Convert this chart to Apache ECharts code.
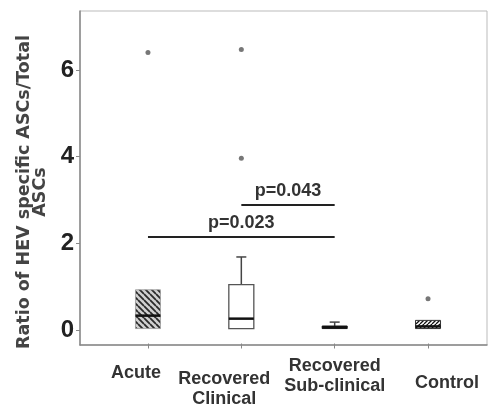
<!DOCTYPE html>
<html><head><meta charset="utf-8">
<script src="https://cdn.jsdelivr.net/npm/echarts@6/dist/echarts.min.js"></script>
<style>html,body{margin:0;padding:0;background:#fff}#c{width:490px;height:409px}</style>
</head><body><div id="c"></div>
<script>
// ---- data ----
const categories = ['Acute', 'Recovered\nClinical', 'Recovered\nSub-clinical', 'Control'];
const boxMin = [0, 0, 0, 0];
const boxQ1 = [0, 0, 0, 0];
const boxMedian = [0.30, 0.23, 0.03, 0.05];
const boxQ3 = [0.90, 1.02, 0.06, 0.19];
const boxMax = [0.90, 1.66, 0.15, 0.19];
const outlierCat = [0, 1, 1, 3];
const outlierVal = [6.40, 6.47, 3.95, 0.69];
const yTicks = [0, 2, 4, 6];
const pFrom = [0, 1];
const pTo = [2, 2];
const pY = [2.12, 2.86];
const pText = ['p=0.023', 'p=0.043'];

// ---- styles ----
const FONT = "'Liberation Sans', Arial, sans-serif";
function hatch(bg, fg, dir, s, lw) {
  const c = document.createElement('canvas'); c.width = s; c.height = s;
  const g = c.getContext('2d');
  g.fillStyle = bg; g.fillRect(0, 0, s, s);
  g.strokeStyle = fg; g.lineWidth = lw; g.beginPath();
  if (dir === '\\') { for (const k of [-s, 0, s]) { g.moveTo(0, k); g.lineTo(s, s + k); } }
  else { for (const k of [0, s, 2 * s]) { g.moveTo(0, k); g.lineTo(s, k - s); } }
  g.stroke();
  return { image: c, repeat: 'repeat' };
}
const boxStyles = [
  { fill: hatch('#d0d0d0', '#2a2a2a', '\\', 6, 1.8), stroke: '#999', lw: 0.8 },
  { fill: '#ffffff', stroke: '#555', lw: 1.3 },
  { fill: '#222222', stroke: '#222', lw: 1 },
  { fill: hatch('#ffffff', '#111', '/', 4, 1.3), stroke: '#333', lw: 1 }
];
const labelPad = [[7.5, 24, 0, 0], [13.5, 34, 0, 0], [0.5, 0, 0, 0], [17.5, 0, 0, 38]];

const yMin = -0.346, yMax = 7.362;
const gridTop = 11, gridBottom = 64;

function renderBox(params, api) {
  const i = api.value(0);
  const cx = api.coord([i, 0])[0];
  const y = v => api.coord([i, v])[1];
  const mn = api.value(1), q1 = api.value(2), md = api.value(3), q3 = api.value(4), mx = api.value(5);
  const w = 25, cap = 10, st = boxStyles[i];
  const ch = [];
  if (mx > q3) {
    ch.push({ type: 'line', shape: { x1: cx, y1: y(q3), x2: cx, y2: y(mx) }, style: { stroke: '#444', lineWidth: 1.5 } });
    ch.push({ type: 'line', shape: { x1: cx - cap / 2, y1: y(mx), x2: cx + cap / 2, y2: y(mx) }, style: { stroke: '#444', lineWidth: 1.5 } });
  }
  if (mn < q1) {
    ch.push({ type: 'line', shape: { x1: cx, y1: y(q1), x2: cx, y2: y(mn) }, style: { stroke: '#444', lineWidth: 1.5 } });
  }
  ch.push({ type: 'rect', shape: { x: cx - w / 2, y: y(q3), width: w, height: y(q1) - y(q3) }, style: { fill: st.fill, stroke: st.stroke, lineWidth: st.lw } });
  ch.push({ type: 'line', shape: { x1: cx - w / 2, y1: y(md), x2: cx + w / 2, y2: y(md) }, style: { stroke: '#111', lineWidth: 2.5 } });
  return { type: 'group', children: ch };
}

const chart = echarts.init(document.getElementById('c'), null, { renderer: 'canvas' });
chart.setOption({
  animation: false,
  backgroundColor: '#fff',
  grid: [
    { left: 80, right: 3, top: gridTop, bottom: gridBottom, show: true, borderColor: '#bbb', borderWidth: 1 },
    { left: 101.3, right: 15.3, top: gridTop, bottom: gridBottom }
  ],
  xAxis: [
    { type: 'value', gridIndex: 0, min: 0, max: 1, axisLine: { show: true, onZero: false, lineStyle: { color: '#888', width: 1.5 } },
      axisTick: { show: false }, axisLabel: { show: false }, splitLine: { show: false } },
    { type: 'category', gridIndex: 1, data: categories.map((c, i) => ({ value: c, textStyle: { padding: labelPad[i] } })),
      boundaryGap: true,
      axisLine: { show: false, onZero: false },
      axisTick: { show: true, alignWithLabel: true, length: 5, lineStyle: { color: '#888', width: 1 } },
      axisLabel: { interval: 0, margin: 12, fontFamily: FONT, fontWeight: 'bold', fontSize: 18, lineHeight: 20, color: '#333' },
      splitLine: { show: false } }
  ],
  yAxis: [
    { type: 'value', gridIndex: 0, min: yMin, max: yMax,
      axisLine: { show: true, onZero: false, lineStyle: { color: '#888', width: 1.5 } },
      axisTick: { show: true, length: 4, customValues: yTicks, lineStyle: { color: '#888' } },
      axisLabel: { customValues: yTicks, margin: 6, fontFamily: FONT, fontWeight: 'bold', fontSize: 24, color: '#222' },
      splitLine: { show: false },
      name: 'Ratio of HEV specific ASCs/Total\nASCs', nameLocation: 'middle', nameRotate: 90, nameGap: 25,
      nameTextStyle: { fontFamily: "'DejaVu Sans', sans-serif", fontWeight: 'bold', fontSize: 17.5, lineHeight: 16.5, color: '#444', padding: [0, 28, 0, 0] } },
    { type: 'value', gridIndex: 1, min: yMin, max: yMax, show: false, splitLine: { show: false } }
  ],
  series: [
    { type: 'custom', xAxisIndex: 1, yAxisIndex: 1, renderItem: renderBox, encode: { x: 0, y: [1, 2, 3, 4, 5] },
      data: categories.map((c, i) => [i, boxMin[i], boxQ1[i], boxMedian[i], boxQ3[i], boxMax[i]]) },
    { type: 'scatter', xAxisIndex: 1, yAxisIndex: 1, symbolSize: 5, itemStyle: { color: '#555' },
      data: outlierCat.map((c, i) => [c, outlierVal[i]]) },
    { type: 'line', xAxisIndex: 1, yAxisIndex: 1, data: [], silent: true,
      markLine: { symbol: ['none', 'none'], silent: true,
        lineStyle: { color: '#222', width: 2, type: 'solid' },
        label: { show: true, position: 'middle', distance: 5, fontFamily: FONT, fontWeight: 'bold', fontSize: 18, color: '#333' },
        data: pText.map((t, i) => [
          { coord: [pFrom[i], pY[i]], label: { formatter: t } },
          { coord: [pTo[i], pY[i]] }
        ]) } }
  ]
});
</script>
</body></html>
